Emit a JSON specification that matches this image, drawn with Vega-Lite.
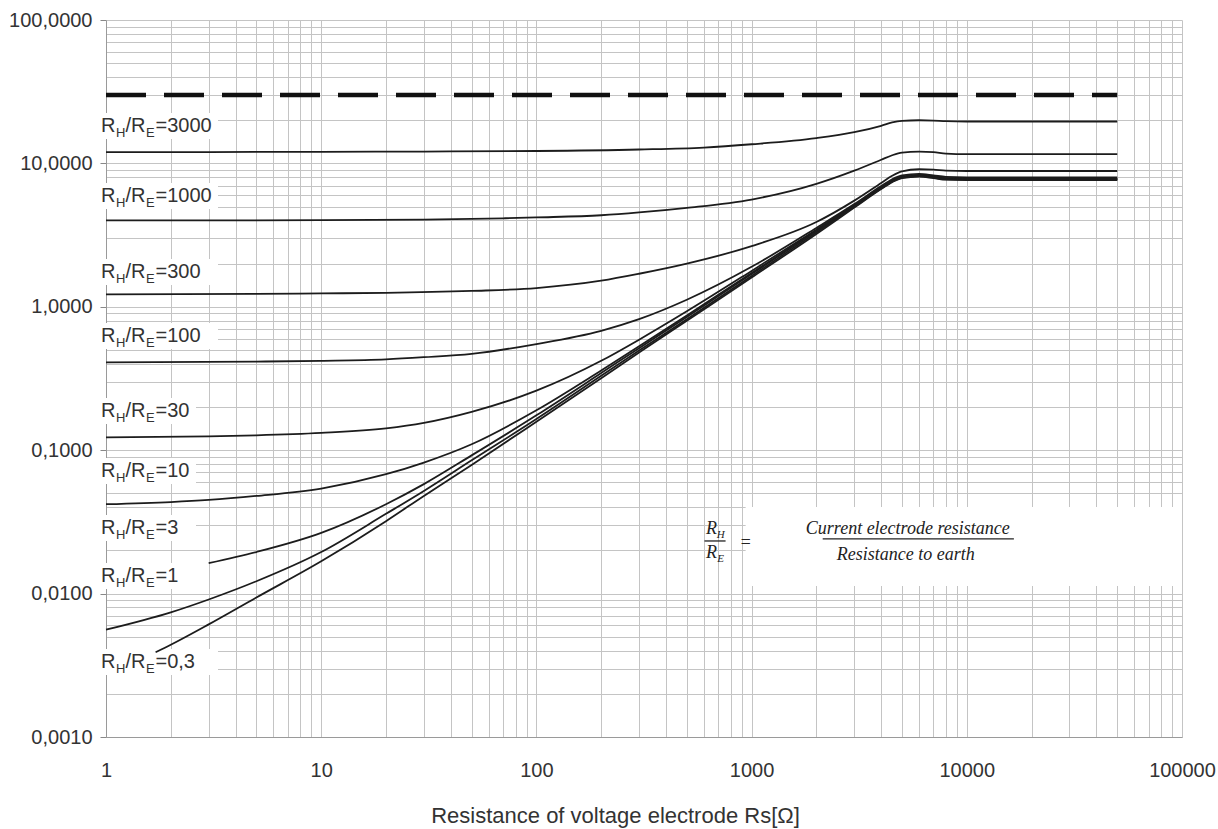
{
  "$schema": "https://vega.github.io/schema/vega-lite/v6.json",
  "width": 1076,
  "height": 717,
  "autosize": {"type": "none"},
  "padding": {"left": 106, "top": 20, "right": 36, "bottom": 92},
  "background": "white",
  "config": {"view": {"stroke": null}, "font": "Liberation Sans"},
  "datasets": {
    "curves": [
      {"ratio":"3000","Rs":1,"v":12.0},{"ratio":"3000","Rs":3,"v":12.0},{"ratio":"3000","Rs":10,"v":12.05},{"ratio":"3000","Rs":30,"v":12.1},{"ratio":"3000","Rs":100,"v":12.2},{"ratio":"3000","Rs":300,"v":12.5},{"ratio":"3000","Rs":600,"v":12.9},{"ratio":"3000","Rs":1000,"v":13.6},{"ratio":"3000","Rs":2000,"v":15.0},{"ratio":"3000","Rs":3000,"v":16.5},{"ratio":"3000","Rs":4000,"v":18.3},{"ratio":"3000","Rs":4500,"v":19.3},{"ratio":"3000","Rs":5000,"v":19.8},{"ratio":"3000","Rs":6000,"v":20.0},{"ratio":"3000","Rs":7000,"v":19.9},{"ratio":"3000","Rs":8000,"v":19.7},{"ratio":"3000","Rs":10000,"v":19.6},{"ratio":"3000","Rs":50000,"v":19.6},
      {"ratio":"1000","Rs":1,"v":4.0},{"ratio":"1000","Rs":10,"v":4.02},{"ratio":"1000","Rs":30,"v":4.05},{"ratio":"1000","Rs":70,"v":4.14},{"ratio":"1000","Rs":100,"v":4.2},{"ratio":"1000","Rs":200,"v":4.35},{"ratio":"1000","Rs":300,"v":4.55},{"ratio":"1000","Rs":500,"v":4.9},{"ratio":"1000","Rs":1000,"v":5.6},{"ratio":"1000","Rs":2000,"v":7.2},{"ratio":"1000","Rs":3000,"v":8.9},{"ratio":"1000","Rs":4000,"v":10.6},{"ratio":"1000","Rs":4500,"v":11.4},{"ratio":"1000","Rs":5000,"v":11.9},{"ratio":"1000","Rs":6000,"v":12.1},{"ratio":"1000","Rs":7000,"v":12.0},{"ratio":"1000","Rs":8000,"v":11.7},{"ratio":"1000","Rs":10000,"v":11.6},{"ratio":"1000","Rs":50000,"v":11.6},
      {"ratio":"300","Rs":1,"v":1.22},{"ratio":"300","Rs":5,"v":1.23},{"ratio":"300","Rs":10,"v":1.24},{"ratio":"300","Rs":20,"v":1.25},{"ratio":"300","Rs":50,"v":1.29},{"ratio":"300","Rs":100,"v":1.35},{"ratio":"300","Rs":200,"v":1.52},{"ratio":"300","Rs":300,"v":1.7},{"ratio":"300","Rs":500,"v":2.0},{"ratio":"300","Rs":1000,"v":2.65},{"ratio":"300","Rs":2000,"v":3.9},{"ratio":"300","Rs":3000,"v":5.5},{"ratio":"300","Rs":4000,"v":7.3},{"ratio":"300","Rs":4500,"v":8.2},{"ratio":"300","Rs":5000,"v":8.8},{"ratio":"300","Rs":6000,"v":9.1},{"ratio":"300","Rs":7000,"v":9.05},{"ratio":"300","Rs":8000,"v":8.9},{"ratio":"300","Rs":10000,"v":8.85},{"ratio":"300","Rs":50000,"v":8.85},
      {"ratio":"100","Rs":1,"v":0.41},{"ratio":"100","Rs":5,"v":0.415},{"ratio":"100","Rs":10,"v":0.42},{"ratio":"100","Rs":20,"v":0.43},{"ratio":"100","Rs":30,"v":0.445},{"ratio":"100","Rs":50,"v":0.47},{"ratio":"100","Rs":100,"v":0.55},{"ratio":"100","Rs":200,"v":0.68},{"ratio":"100","Rs":300,"v":0.82},{"ratio":"100","Rs":500,"v":1.12},{"ratio":"100","Rs":1000,"v":1.9},{"ratio":"100","Rs":2000,"v":3.55},{"ratio":"100","Rs":3000,"v":5.2},{"ratio":"100","Rs":4000,"v":6.95},{"ratio":"100","Rs":4500,"v":7.75},{"ratio":"100","Rs":5000,"v":8.25},{"ratio":"100","Rs":6000,"v":8.45},{"ratio":"100","Rs":7000,"v":8.25},{"ratio":"100","Rs":8000,"v":8.05},{"ratio":"100","Rs":10000,"v":8.0},{"ratio":"100","Rs":50000,"v":8.0},
      {"ratio":"30","Rs":1,"v":0.123},{"ratio":"30","Rs":3,"v":0.125},{"ratio":"30","Rs":5,"v":0.127},{"ratio":"30","Rs":10,"v":0.132},{"ratio":"30","Rs":20,"v":0.142},{"ratio":"30","Rs":30,"v":0.155},{"ratio":"30","Rs":50,"v":0.185},{"ratio":"30","Rs":100,"v":0.26},{"ratio":"30","Rs":200,"v":0.42},{"ratio":"30","Rs":300,"v":0.59},{"ratio":"30","Rs":500,"v":0.93},{"ratio":"30","Rs":1000,"v":1.78},{"ratio":"30","Rs":2000,"v":3.45},{"ratio":"30","Rs":3000,"v":5.1},{"ratio":"30","Rs":4000,"v":6.8},{"ratio":"30","Rs":4500,"v":7.6},{"ratio":"30","Rs":5000,"v":8.1},{"ratio":"30","Rs":6000,"v":8.3},{"ratio":"30","Rs":7000,"v":8.1},{"ratio":"30","Rs":8000,"v":7.9},{"ratio":"30","Rs":10000,"v":7.85},{"ratio":"30","Rs":50000,"v":7.85},
      {"ratio":"10","Rs":1,"v":0.042},{"ratio":"10","Rs":2,"v":0.0435},{"ratio":"10","Rs":3,"v":0.045},{"ratio":"10","Rs":5,"v":0.048},{"ratio":"10","Rs":10,"v":0.054},{"ratio":"10","Rs":20,"v":0.068},{"ratio":"10","Rs":30,"v":0.082},{"ratio":"10","Rs":50,"v":0.11},{"ratio":"10","Rs":100,"v":0.19},{"ratio":"10","Rs":200,"v":0.36},{"ratio":"10","Rs":300,"v":0.53},{"ratio":"10","Rs":500,"v":0.87},{"ratio":"10","Rs":1000,"v":1.72},{"ratio":"10","Rs":2000,"v":3.4},{"ratio":"10","Rs":3000,"v":5.05},{"ratio":"10","Rs":4000,"v":6.75},{"ratio":"10","Rs":4500,"v":7.55},{"ratio":"10","Rs":5000,"v":8.05},{"ratio":"10","Rs":6000,"v":8.25},{"ratio":"10","Rs":7000,"v":8.05},{"ratio":"10","Rs":8000,"v":7.85},{"ratio":"10","Rs":10000,"v":7.8},{"ratio":"10","Rs":50000,"v":7.8},
      {"ratio":"3","Rs":3,"v":0.0163},{"ratio":"3","Rs":5,"v":0.0195},{"ratio":"3","Rs":10,"v":0.0265},{"ratio":"3","Rs":20,"v":0.042},{"ratio":"3","Rs":30,"v":0.058},{"ratio":"3","Rs":50,"v":0.092},{"ratio":"3","Rs":100,"v":0.175},{"ratio":"3","Rs":200,"v":0.345},{"ratio":"3","Rs":300,"v":0.515},{"ratio":"3","Rs":500,"v":0.85},{"ratio":"3","Rs":1000,"v":1.69},{"ratio":"3","Rs":2000,"v":3.38},{"ratio":"3","Rs":3000,"v":5.02},{"ratio":"3","Rs":4000,"v":6.72},{"ratio":"3","Rs":4500,"v":7.5},{"ratio":"3","Rs":5000,"v":8.0},{"ratio":"3","Rs":6000,"v":8.2},{"ratio":"3","Rs":7000,"v":8.0},{"ratio":"3","Rs":8000,"v":7.8},{"ratio":"3","Rs":10000,"v":7.75},{"ratio":"3","Rs":50000,"v":7.75},
      {"ratio":"1","Rs":1,"v":0.0056},{"ratio":"1","Rs":2,"v":0.0074},{"ratio":"1","Rs":3,"v":0.0091},{"ratio":"1","Rs":5,"v":0.0122},{"ratio":"1","Rs":10,"v":0.0195},{"ratio":"1","Rs":20,"v":0.036},{"ratio":"1","Rs":30,"v":0.052},{"ratio":"1","Rs":50,"v":0.085},{"ratio":"1","Rs":100,"v":0.165},{"ratio":"1","Rs":200,"v":0.33},{"ratio":"1","Rs":300,"v":0.495},{"ratio":"1","Rs":500,"v":0.82},{"ratio":"1","Rs":1000,"v":1.64},{"ratio":"1","Rs":2000,"v":3.3},{"ratio":"1","Rs":3000,"v":4.98},{"ratio":"1","Rs":4000,"v":6.68},{"ratio":"1","Rs":4500,"v":7.45},{"ratio":"1","Rs":5000,"v":7.95},{"ratio":"1","Rs":6000,"v":8.15},{"ratio":"1","Rs":7000,"v":7.95},{"ratio":"1","Rs":8000,"v":7.75},{"ratio":"1","Rs":10000,"v":7.7},{"ratio":"1","Rs":50000,"v":7.7},
      {"ratio":"0,3","Rs":1.7,"v":0.0039},{"ratio":"0,3","Rs":2,"v":0.0044},{"ratio":"0,3","Rs":3,"v":0.0061},{"ratio":"0,3","Rs":5,"v":0.0094},{"ratio":"0,3","Rs":10,"v":0.0168},{"ratio":"0,3","Rs":20,"v":0.032},{"ratio":"0,3","Rs":30,"v":0.048},{"ratio":"0,3","Rs":50,"v":0.079},{"ratio":"0,3","Rs":100,"v":0.158},{"ratio":"0,3","Rs":200,"v":0.318},{"ratio":"0,3","Rs":300,"v":0.48},{"ratio":"0,3","Rs":500,"v":0.8},{"ratio":"0,3","Rs":1000,"v":1.6},{"ratio":"0,3","Rs":2000,"v":3.22},{"ratio":"0,3","Rs":3000,"v":4.92},{"ratio":"0,3","Rs":4000,"v":6.62},{"ratio":"0,3","Rs":4500,"v":7.4},{"ratio":"0,3","Rs":5000,"v":7.9},{"ratio":"0,3","Rs":6000,"v":8.1},{"ratio":"0,3","Rs":7000,"v":7.9},{"ratio":"0,3","Rs":8000,"v":7.7},{"ratio":"0,3","Rs":10000,"v":7.65},{"ratio":"0,3","Rs":50000,"v":7.65}
    ],
    "labels": [
      {"ratio":"3000","Rs":1,"v":16.56,"lab":"=3000"},
      {"ratio":"1000","Rs":1,"v":5.38,"lab":"=1000"},
      {"ratio":"300","Rs":1,"v":1.588,"lab":"=300"},
      {"ratio":"100","Rs":1,"v":0.568,"lab":"=100"},
      {"ratio":"30","Rs":1,"v":0.1704,"lab":"=30"},
      {"ratio":"10","Rs":1,"v":0.065,"lab":"=10"},
      {"ratio":"3","Rs":1,"v":0.02603,"lab":"=3"},
      {"ratio":"1","Rs":1,"v":0.01205,"lab":"=1"},
      {"ratio":"0,3","Rs":1,"v":0.003029,"lab":"=0,3"}
    ],
    "limit": [{"Rs":1,"v":30},{"Rs":50000,"v":30}],
    "box": [{"Rs":938,"Rs2":100000,"v":0.0402,"v2":0.01129}],
    "notes": [
      {"t":"Current electrode resistance","Rs":5317,"v":0.02606},
      {"t":"Resistance to earth","Rs":5202,"v":0.01715},
      {"t":"R","Rs":651,"v":0.02606},
      {"t":"R","Rs":651,"v":0.0177},
      {"t":"=","Rs":938,"v":0.0208}
    ],
    "noteSub": [
      {"t":"H","Rs":718,"v":0.02441},
      {"t":"E","Rs":718,"v":0.0166}
    ],
    "bars": [
      {"Rs":2140,"Rs2":16550,"v":0.02404},
      {"Rs":604,"Rs2":757,"v":0.02328}
    ]
  },
  "encoding": {
    "x": {
      "field": "Rs", "type": "quantitative",
      "scale": {"type": "log", "domain": [1, 100000], "nice": false},
      "axis": {
        "values": [1,2,3,4,5,6,7,8,9,10,20,30,40,50,60,70,80,90,100,200,300,400,500,600,700,800,900,1000,2000,3000,4000,5000,6000,7000,8000,9000,10000,20000,30000,40000,50000,60000,70000,80000,90000,100000],
        "labelExpr": "abs(log(datum.value)/LN10 - round(log(datum.value)/LN10)) < 0.001 ? format(datum.value, 'd') : ''",
        "grid": true, "gridColor": "#c4c4c4", "gridWidth": 1,
        "ticks": false, "domainColor": "#9a9a9a",
        "labelFontSize": 20, "labelColor": "#333333", "labelPadding": 23,
        "labelOverlap": false, "labelFlush": false,
        "title": "Resistance of voltage electrode Rs[Ω]",
        "titleFontSize": 22, "titleFontWeight": "normal", "titleColor": "#333333",
        "titlePadding": 25, "titleX": 509, "zindex": 0
      }
    },
    "y": {
      "field": "v", "type": "quantitative",
      "scale": {"type": "log", "domain": [0.001, 100], "nice": false},
      "axis": {
        "values": [0.001,0.002,0.003,0.004,0.005,0.006,0.007,0.008,0.009,0.01,0.02,0.03,0.04,0.05,0.06,0.07,0.08,0.09,0.1,0.2,0.3,0.4,0.5,0.6,0.7,0.8,0.9,1,2,3,4,5,6,7,8,9,10,20,30,40,50,60,70,80,90,100],
        "labelExpr": "abs(log(datum.value)/LN10 - round(log(datum.value)/LN10)) < 0.001 ? replace(format(datum.value, '.4f'), '.', ',') : ''",
        "grid": true, "gridColor": "#c4c4c4", "gridWidth": 1,
        "ticks": true, "tickSize": 6,
        "tickColor": {"condition": {"test": "abs(log(datum.value)/LN10 - round(log(datum.value)/LN10)) < 0.001", "value": "#888888"}, "value": "transparent"},
        "domainColor": "#9a9a9a",
        "labelFontSize": 20, "labelColor": "#333333", "labelPadding": 8,
        "labelOverlap": false, "labelFlush": false,
        "title": null, "zindex": 0
      }
    }
  },
  "layer": [
    {
      "data": {"name": "box"},
      "mark": {"type": "rect", "fill": "white", "clip": false},
      "encoding": {"x2": {"field": "Rs2"}, "y2": {"field": "v2"}}
    },
    {
      "data": {"name": "labels"},
      "transform": [{"filter": {"field": "ratio", "oneOf": ["3000", "1000", "300", "100", "0,3"]}}],
      "mark": {"type": "rect", "fill": "white", "xOffset": -7, "x2Offset": 112, "yOffset": -19, "y2Offset": 7},
      "encoding": {"x2": {"field": "Rs"}, "y2": {"field": "v"}}
    },
    {
      "data": {"name": "labels"},
      "transform": [{"filter": {"field": "ratio", "oneOf": ["30", "10", "3", "1"]}}],
      "mark": {"type": "rect", "fill": "white", "xOffset": -7, "x2Offset": 90, "yOffset": -19, "y2Offset": 7},
      "encoding": {"x2": {"field": "Rs"}, "y2": {"field": "v"}}
    },
    {
      "data": {"name": "curves"},
      "mark": {"type": "line", "color": "#1c1c1c", "strokeWidth": 1.8, "interpolate": "monotone"},
      "encoding": {"detail": {"field": "ratio"}}
    },
    {
      "data": {"name": "limit"},
      "mark": {"type": "line", "color": "#111111", "strokeWidth": 4.5, "strokeDash": [40, 18]},
      "encoding": {}
    },
    {
      "data": {"name": "labels"},
      "mark": {"type": "text", "text": "R", "align": "left", "baseline": "alphabetic", "dx": -5, "fontSize": 20, "color": "#333333"}
    },
    {
      "data": {"name": "labels"},
      "mark": {"type": "text", "text": "H", "align": "left", "baseline": "alphabetic", "dx": 10, "dy": 5, "fontSize": 13, "color": "#333333"}
    },
    {
      "data": {"name": "labels"},
      "mark": {"type": "text", "text": "/R", "align": "left", "baseline": "alphabetic", "dx": 19.5, "fontSize": 20, "color": "#333333"}
    },
    {
      "data": {"name": "labels"},
      "mark": {"type": "text", "text": "E", "align": "left", "baseline": "alphabetic", "dx": 40, "dy": 5, "fontSize": 13, "color": "#333333"}
    },
    {
      "data": {"name": "labels"},
      "mark": {"type": "text", "align": "left", "baseline": "alphabetic", "dx": 49.5, "fontSize": 20, "color": "#333333"},
      "encoding": {"text": {"field": "lab"}}
    },
    {
      "data": {"name": "notes"},
      "mark": {"type": "text", "align": "center", "baseline": "alphabetic", "font": "Liberation Serif", "fontStyle": "italic", "fontSize": 18, "color": "#222222"},
      "encoding": {"text": {"field": "t"}}
    },
    {
      "data": {"name": "noteSub"},
      "mark": {"type": "text", "align": "center", "baseline": "alphabetic", "font": "Liberation Serif", "fontStyle": "italic", "fontSize": 11, "color": "#222222"},
      "encoding": {"text": {"field": "t"}}
    },
    {
      "data": {"name": "bars"},
      "mark": {"type": "rule", "color": "#222222", "strokeWidth": 1.3},
      "encoding": {"x2": {"field": "Rs2"}}
    }
  ]
}
